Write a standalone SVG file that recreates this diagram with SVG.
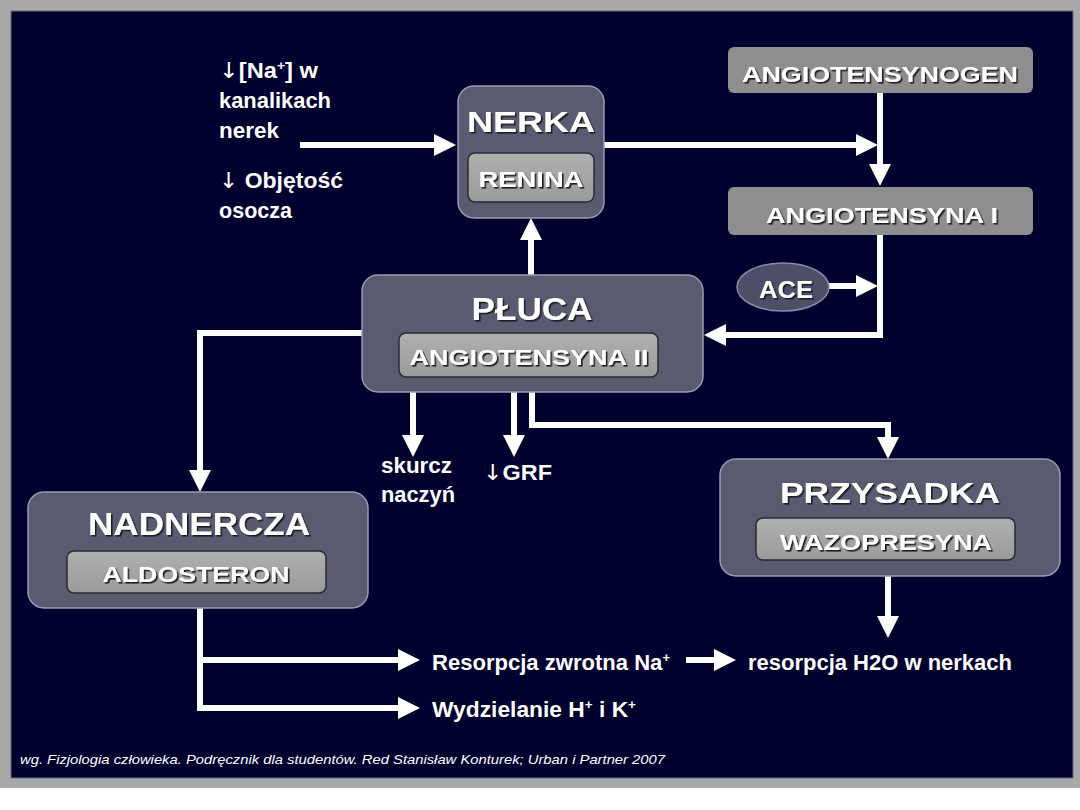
<svg xmlns="http://www.w3.org/2000/svg" width="1080" height="810" viewBox="0 0 1080 810">
<defs>
<style>
.node{fill:#5a5a70;stroke:#9a9ab4;stroke-width:1.5}
.inner{fill:url(#ig);stroke:#2a2a33;stroke-width:1.5}
.top{fill:#8e8e8e}
.title{font-family:"Liberation Sans",Arial,sans-serif;font-weight:bold;fill:#fff;text-anchor:middle;filter:url(#ts)}
.lab{font-family:"Liberation Sans",Arial,sans-serif;font-weight:bold;fill:#fff;text-anchor:middle;filter:url(#ts)}
.txt{font-family:"Liberation Sans",Arial,sans-serif;font-weight:bold;fill:#fff;font-size:22px}
.arr{font-family:"DejaVu Sans",sans-serif;font-weight:normal}
.con{fill:none;stroke:#fff;stroke-width:6;marker-end:url(#ah)}
</style>
<linearGradient id="ig" x1="0" y1="0" x2="0" y2="1">
<stop offset="0" stop-color="#b0b0b0"/>
<stop offset="1" stop-color="#9a9a9a"/>
</linearGradient>
<filter id="ts" x="-10%" y="-30%" width="120%" height="160%">
<feDropShadow dx="1.6" dy="1.6" stdDeviation="0.4" flood-color="#1a1a22" flood-opacity="1"/>
</filter>
<marker id="ah" markerWidth="22" markerHeight="22" refX="12" refY="11" orient="auto" markerUnits="userSpaceOnUse">
<path d="M0,0 L22,11 L0,22 z" fill="#fff"/>
</marker>
</defs>
<rect x="0" y="0" width="1080" height="810" fill="#ffffff"/>
<rect x="0" y="0" width="1080" height="788" fill="#a9a9a9"/>
<rect x="11" y="11" width="1062" height="767" fill="#00002f" stroke="#6a6a88" stroke-width="1"/>

<g id="connectors">
<path class="con" d="M300,145 H446"/>
<path class="con" d="M604,145 H868"/>
<path class="con" d="M880,93 V176"/>
<path class="con" d="M880,235 V335 H714"/>
<path class="con" d="M829,286 H868"/>
<path class="con" d="M531,275 V228"/>
<path class="con" d="M362,333 H200 V482"/>
<path class="con" d="M413,392 V447"/>
<path class="con" d="M514,392 V447"/>
<path class="con" d="M532,392 V425 H888 V449"/>
<path class="con" d="M888,576 V628"/>
<path class="con" d="M200,608 V660 H410"/>
<path class="con" d="M200,657 V708 H410"/>
<path class="con" d="M686,660 H726"/>
</g>

<g id="input-text">
<text class="txt" x="219" y="78" textLength="99" lengthAdjust="spacingAndGlyphs"><tspan class="arr">↓</tspan>[Na<tspan font-size="13" dy="-8">+</tspan><tspan dy="8">] w</tspan></text>
<text class="txt" x="219" y="108" textLength="112" lengthAdjust="spacingAndGlyphs">kanalikach</text>
<text class="txt" x="219" y="138" textLength="60" lengthAdjust="spacingAndGlyphs">nerek</text>
<text class="txt" x="219" y="188" textLength="124" lengthAdjust="spacingAndGlyphs"><tspan class="arr">↓</tspan> Objętość</text>
<text class="txt" x="219" y="218" textLength="73" lengthAdjust="spacingAndGlyphs">osocza</text>
</g>

<g id="nerka">
<rect class="node" x="458" y="86" width="146" height="132" rx="16"/>
<text class="title" x="531" y="132" font-size="29" textLength="128" lengthAdjust="spacingAndGlyphs">NERKA</text>
<rect class="inner" x="468" y="153" width="126" height="49" rx="7"/>
<text class="lab" x="531" y="187" font-size="22" textLength="105" lengthAdjust="spacingAndGlyphs">RENINA</text>
</g>

<g id="angiotensynogen">
<rect class="top" x="728" y="47" width="305" height="46" rx="6"/>
<text class="lab" x="880" y="82" font-size="22" textLength="276" lengthAdjust="spacingAndGlyphs">ANGIOTENSYNOGEN</text>
</g>

<g id="angiotensyna-i">
<rect class="top" x="728" y="187" width="305" height="48" rx="6"/>
<text class="lab" x="882" y="223" font-size="22" textLength="232" lengthAdjust="spacingAndGlyphs">ANGIOTENSYNA I</text>
</g>

<g id="ace">
<ellipse cx="783" cy="287" rx="46" ry="24" fill="#4e4e68" stroke="#8a8aa6" stroke-width="1.5"/>
<text class="lab" x="786" y="298" font-size="23" textLength="54" lengthAdjust="spacingAndGlyphs">ACE</text>
</g>

<g id="pluca">
<rect class="node" x="362" y="275" width="341" height="117" rx="16"/>
<text class="title" x="532" y="320" font-size="31" textLength="121" lengthAdjust="spacingAndGlyphs">PŁUCA</text>
<rect class="inner" x="399" y="333" width="259" height="44" rx="7"/>
<text class="lab" x="529" y="365" font-size="22" textLength="239" lengthAdjust="spacingAndGlyphs">ANGIOTENSYNA II</text>
</g>

<g id="pluca-outputs">
<text class="txt" x="381" y="473" textLength="71" lengthAdjust="spacingAndGlyphs">skurcz</text>
<text class="txt" x="381" y="502" textLength="74" lengthAdjust="spacingAndGlyphs">naczyń</text>
<text class="txt" x="483" y="480" textLength="69" lengthAdjust="spacingAndGlyphs"><tspan class="arr">↓</tspan>GRF</text>
</g>

<g id="nadnercza">
<rect class="node" x="28" y="492" width="340" height="116" rx="16"/>
<text class="title" x="199" y="535" font-size="31" textLength="222" lengthAdjust="spacingAndGlyphs">NADNERCZA</text>
<rect class="inner" x="67" y="551" width="259" height="42" rx="7"/>
<text class="lab" x="196" y="582" font-size="22" textLength="187" lengthAdjust="spacingAndGlyphs">ALDOSTERON</text>
</g>

<g id="przysadka">
<rect class="node" x="720" y="459" width="340" height="117" rx="16"/>
<text class="title" x="890" y="503" font-size="30" textLength="220" lengthAdjust="spacingAndGlyphs">PRZYSADKA</text>
<rect class="inner" x="756" y="518" width="259" height="42" rx="7"/>
<text class="lab" x="886" y="550" font-size="22" textLength="212" lengthAdjust="spacingAndGlyphs">WAZOPRESYNA</text>
</g>

<g id="effects">
<text class="txt" x="432" y="670" textLength="238" lengthAdjust="spacingAndGlyphs">Resorpcja zwrotna Na<tspan font-size="13" dy="-8">+</tspan></text>
<text class="txt" x="748" y="670" textLength="264" lengthAdjust="spacingAndGlyphs">resorpcja H2O w nerkach</text>
<text class="txt" x="432" y="717" textLength="204" lengthAdjust="spacingAndGlyphs">Wydzielanie H<tspan font-size="13" dy="-8">+</tspan><tspan dy="8"> i K</tspan><tspan font-size="13" dy="-8">+</tspan></text>
</g>

<text x="20" y="764" font-family="'Liberation Sans',Arial,sans-serif" font-style="italic" font-size="13" fill="#fff" textLength="645" lengthAdjust="spacingAndGlyphs">wg. Fizjologia człowieka. Podręcznik dla studentów. Red Stanisław Konturek; Urban i Partner 2007</text>
</svg>
